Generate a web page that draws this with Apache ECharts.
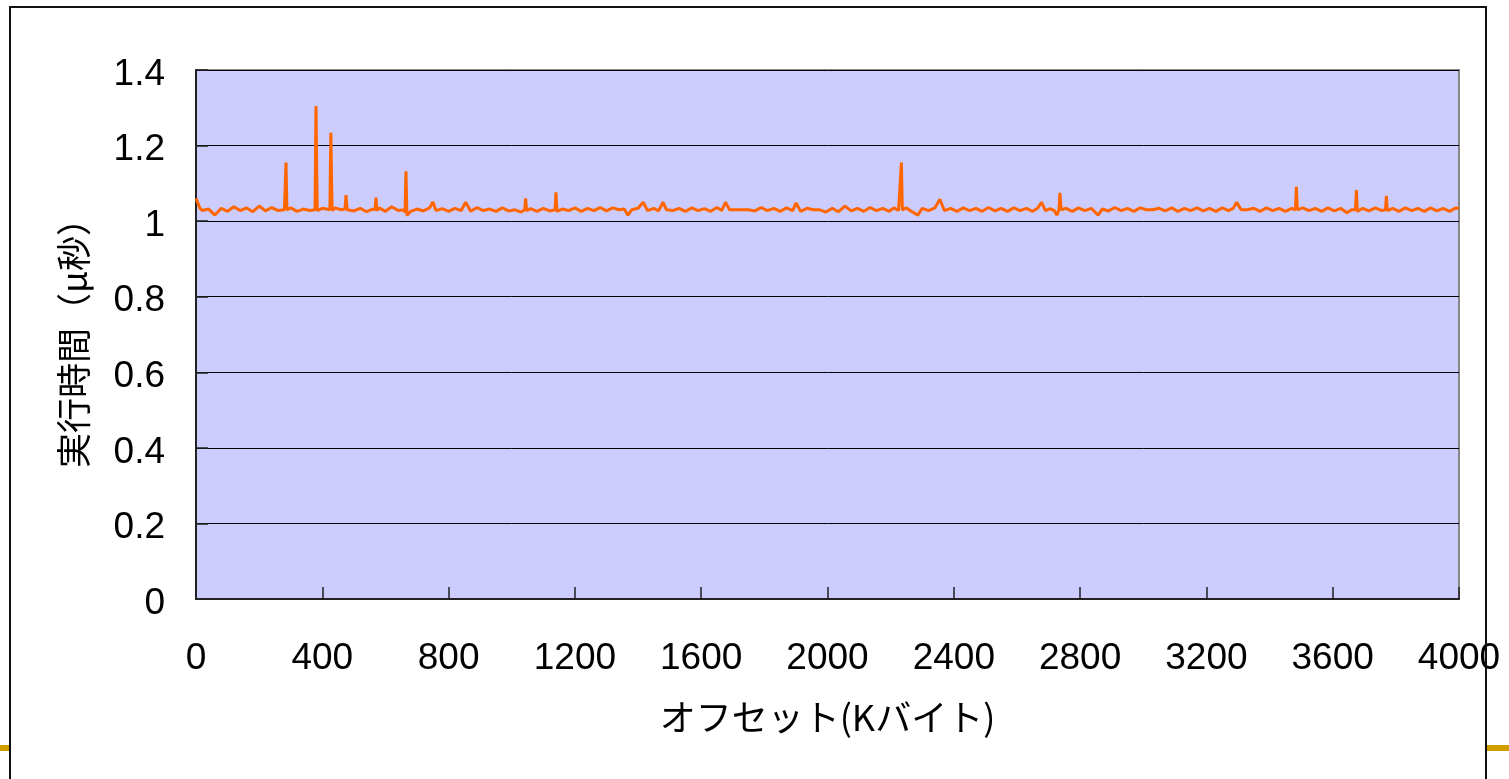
<!DOCTYPE html>
<html>
<head>
<meta charset="utf-8">
<script src="https://cdn.jsdelivr.net/npm/echarts@6/dist/echarts.min.js"></script>
<style>
  html, body { margin: 0; padding: 0; background: #fff; }
  #chart { width: 1509px; height: 779px; }
</style>
</head>
<body>
<div id="chart"></div>
<script>
// axis texts
const yName = "実行時間（μ秒）"
const xName = "オフセット(Kバイト)"
const yTicks = [0, 0.2, 0.4, 0.6, 0.8, 1, 1.2, 1.4]
const xTicks = [0, 400, 800, 1200, 1600, 2000, 2400, 2800, 3200, 3600, 4000]

// [offset (K byte), exec time (us)]
const execTime = [
  [0,1.060],[12,1.035],[20,1.028],[40,1.032],[60,1.016],[80,1.034],[100,1.026],[120,1.038],[140,1.028],[160,1.035],[180,1.025],
  [200,1.040],[220,1.027],[240,1.036],[260,1.028],[280,1.030],[282,1.030],[285,1.155],[288,1.030],[300,1.035],[320,1.026],[340,1.032],[360,1.028],[377,1.030],[380,1.305],[384,1.028],[400,1.034],
  [424,1.030],[427,1.234],[431,1.028],[440,1.035],[460,1.030],[472,1.032],[475,1.069],[479,1.030],[500,1.027],[520,1.034],[540,1.025],[560,1.032],[567,1.030],[570,1.062],[573,1.028],[580,1.035],[600,1.026],
  [620,1.038],[640,1.028],[660,1.030],[662,1.022],[665,1.132],[668,1.015],[680,1.026],[700,1.032],[720,1.027],[740,1.035],[750,1.051],[760,1.028],[780,1.033],[800,1.026],
  [820,1.034],[840,1.028],[854,1.050],[870,1.026],[890,1.036],[910,1.028],[930,1.032],[950,1.026],[970,1.035],[990,1.027],
  [1010,1.030],[1030,1.024],[1041,1.030],[1044,1.060],[1047,1.028],[1060,1.033],[1080,1.026],[1100,1.034],[1120,1.027],[1137,1.030],[1140,1.076],[1143,1.026],[1160,1.032],[1180,1.028],[1200,1.035],
  [1220,1.026],[1240,1.034],[1260,1.028],[1280,1.036],[1300,1.027],[1320,1.035],[1340,1.030],[1356,1.032],[1368,1.016],[1380,1.030],[1400,1.034],
  [1416,1.050],[1430,1.028],[1450,1.034],[1465,1.027],[1479,1.050],[1490,1.030],[1510,1.028],[1530,1.034],[1550,1.026],[1570,1.035],[1590,1.028],
  [1610,1.033],[1630,1.026],[1650,1.036],[1665,1.028],[1677,1.050],[1690,1.030],[1710,1.030],[1730,1.030],[1750,1.030],[1770,1.027],[1790,1.036],
  [1810,1.028],[1830,1.034],[1850,1.026],[1870,1.035],[1890,1.028],[1900,1.048],[1915,1.026],[1935,1.034],[1955,1.030],[1975,1.030],[1995,1.024],
  [2015,1.034],[2035,1.025],[2055,1.040],[2075,1.027],[2095,1.034],[2115,1.026],[2135,1.036],[2155,1.028],[2175,1.034],[2195,1.026],
  [2210,1.035],[2225,1.028],[2231,1.030],[2234,1.155],[2237,1.030],[2250,1.035],[2265,1.026],[2286,1.016],[2300,1.034],[2320,1.028],[2340,1.035],[2356,1.058],[2370,1.028],[2390,1.034],
  [2410,1.026],[2430,1.035],[2450,1.028],[2470,1.034],[2490,1.026],[2510,1.036],[2530,1.027],[2550,1.034],[2570,1.026],[2590,1.035],
  [2610,1.028],[2630,1.034],[2650,1.026],[2665,1.034],[2678,1.050],[2690,1.028],[2705,1.033],[2718,1.028],[2727,1.016],[2733,1.030],[2736,1.075],[2740,1.030],[2755,1.034],[2775,1.026],[2795,1.035],
  [2815,1.028],[2835,1.034],[2857,1.016],[2870,1.032],[2890,1.027],[2910,1.036],[2930,1.028],[2950,1.034],[2970,1.026],[2990,1.035],
  [3010,1.030],[3030,1.030],[3050,1.034],[3070,1.027],[3090,1.035],[3110,1.026],[3130,1.034],[3150,1.028],[3170,1.035],[3190,1.027],
  [3210,1.034],[3230,1.026],[3250,1.035],[3270,1.028],[3285,1.034],[3296,1.050],[3310,1.030],[3330,1.030],[3350,1.034],[3370,1.026],[3390,1.035],
  [3410,1.028],[3430,1.034],[3450,1.026],[3470,1.034],[3482,1.030],[3485,1.091],[3488,1.030],[3505,1.035],[3525,1.028],[3545,1.034],[3565,1.026],[3585,1.035],
  [3605,1.027],[3625,1.034],[3645,1.022],[3660,1.030],[3672,1.030],[3675,1.082],[3678,1.026],[3695,1.034],[3715,1.027],[3735,1.035],[3755,1.028],[3767,1.030],[3770,1.067],[3773,1.028],[3790,1.034],
  [3810,1.026],[3830,1.035],[3850,1.028],[3870,1.034],[3890,1.026],[3910,1.035],[3930,1.027],[3950,1.034],[3970,1.026],[3990,1.035],[4000,1.034]
]

const numFont = "'Liberation Sans', Arial, sans-serif"
const jpFont = "'Noto Sans CJK JP', sans-serif"

const chart = echarts.init(document.getElementById("chart"))
const option = {
  animation: false,
  backgroundColor: "#fff",
  grid: {
    left: 196,
    top: 70,
    right: 50,
    bottom: 180,
    show: true,
    backgroundColor: "#CCCCFF",
    borderColor: "#888",
    borderWidth: 2,
  },
  xAxis: {
    type: "value",
    min: xTicks[0],
    max: xTicks[xTicks.length - 1],
    interval: 400,
    name: xName,
    nameLocation: "middle",
    nameGap: 100,
    nameTextStyle: { fontFamily: jpFont, fontSize: 36, color: "#000" },
    axisLine: { lineStyle: { color: "#222", width: 2 } },
    axisTick: { inside: true, length: 12, lineStyle: { color: "#222", width: 1.5 } },
    axisLabel: {
      margin: 41,
      fontFamily: numFont,
      fontSize: 37,
      color: "#000",
      formatter: (v) => String(v),
    },
    splitLine: { show: false },
  },
  yAxis: {
    type: "value",
    min: yTicks[0],
    max: yTicks[yTicks.length - 1],
    interval: 0.2,
    name: yName,
    nameLocation: "middle",
    nameGap: 105,
    nameRotate: 90,
    nameTextStyle: { fontFamily: jpFont, fontSize: 35, color: "#000" },
    axisLine: { lineStyle: { color: "#222", width: 2 } },
    axisTick: { inside: true, length: 12, lineStyle: { color: "#222", width: 1.5 } },
    axisLabel: {
      margin: 31,
      verticalAlign: "top",
      lineHeight: 9,
      fontFamily: numFont,
      fontSize: 37,
      color: "#000",
      formatter: (v) => String(Math.round(v * 10) / 10),
    },
    splitLine: { show: true, lineStyle: { color: "#000", width: 1 } },
  },
  series: [
    {
      type: "line",
      data: execTime,
      showSymbol: false,
      symbol: "none",
      lineStyle: { color: "#FF6600", width: 3 },
      z: 3,
    },
  ],
  graphic: [
    {
      type: "rect",
      shape: { x: 10, y: 7, width: 1476, height: 790 },
      style: { fill: null, stroke: "#111", lineWidth: 2 },
      silent: true,
      z: 100,
    },
    {
      type: "rect",
      shape: { x: 0, y: 745, width: 10, height: 6 },
      style: { fill: "#D19E00" },
      silent: true,
    },
    {
      type: "rect",
      shape: { x: 1487, y: 745, width: 22, height: 6 },
      style: { fill: "#D19E00" },
      silent: true,
    },
  ],
}
chart.setOption(option)
</script>
</body>
</html>
